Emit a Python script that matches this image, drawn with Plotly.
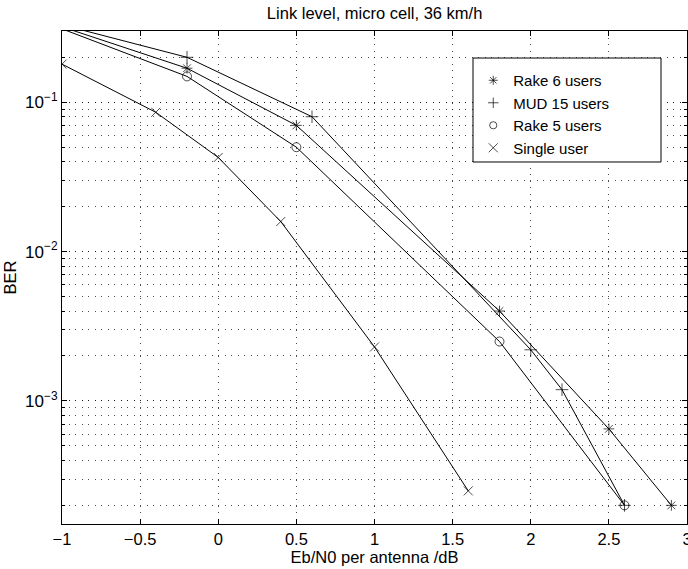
import plotly.graph_objects as go
import numpy as np

# Data
x_rake6 = [-1.0, -0.2, 0.5, 1.8, 2.5, 2.9]
y_rake6 = [0.32, 0.169, 0.070, 0.0040, 0.00065, 0.00020]

x_mud15 = [-1.0, -0.2, 0.6, 2.0, 2.2, 2.6]
y_mud15 = [0.33, 0.200, 0.080, 0.0022, 0.00119, 0.00020]

x_rake5 = [-1.0, -0.2, 0.5, 1.8, 2.6]
y_rake5 = [0.31, 0.149, 0.050, 0.0025, 0.00020]

x_single = [-1.0, -0.4, 0.0, 0.4, 1.0, 1.6]
y_single = [0.18, 0.0857, 0.0427, 0.0159, 0.0023, 0.00025]

series_names = ["Rake 6 users", "MUD 15 users", "Rake 5 users", "Single user"]
series_x = [x_rake6, x_mud15, x_rake5, x_single]
series_y = [y_rake6, y_mud15, y_rake5, y_single]
symbols = ["asterisk-open", "cross-thin-open", "circle-open", "x-thin-open"]

y_min, y_max = 1.5e-4, 0.3
x_min, x_max = -1, 3

ytick_vals = [1e-3, 1e-2, 1e-1]
ytick_text = ["10<sup>−3</sup>", "10<sup>−2</sup>", "10<sup>−1</sup>"]
xtick_vals = [-1, -0.5, 0, 0.5, 1, 1.5, 2, 2.5, 3]
xtick_text = ["−1", "−0.5", "0", "0.5", "1", "1.5", "2", "2.5", "3"]

font_family = "Liberation Sans, Arial, Helvetica, sans-serif"

fig = go.Figure()
for name, xs, ys, sym in zip(series_names, series_x, series_y, symbols):
    fig.add_trace(go.Scatter(x=xs, y=ys, mode="lines", showlegend=False,
                             line=dict(color="black", width=1), hoverinfo="skip"))
    # markers of points outside the axis limits are not drawn (MATLAB-like)
    sizes = [9 if (y_min <= v <= y_max) else 0 for v in ys]
    fig.add_trace(go.Scatter(x=xs, y=ys, mode="markers", name=name,
                             marker=dict(symbol=sym, size=sizes, color="black",
                                         line=dict(color="black", width=1))))

grid_col = "rgba(0,0,0,0.7)"
grid_dash = "1px,5.5px"
fs = 16.5
fig.update_layout(
    width=688, height=569,
    margin=dict(l=62, r=1, t=31, b=45, autoexpand=False),
    paper_bgcolor="white", plot_bgcolor="white",
    font=dict(family=font_family, size=fs, color="black"),
    title=dict(text="Link level, micro cell, 36 km/h", x=0.5445, xanchor="center",
               y=0.977, yanchor="middle", font=dict(size=16.5)),
    showlegend=True,
    legend=dict(x=0.658, y=0.933, xanchor="left", yanchor="top",
                borderwidth=0, bgcolor="rgba(0,0,0,0)",
                font=dict(size=15), itemwidth=30, tracegroupgap=0),
    shapes=[dict(type="rect", xref="paper", yref="paper",
                 x0=0.6576, x1=0.9584, y0=0.7343, y1=0.9452,
                 line=dict(color="black", width=1), fillcolor="white",
                 layer="above")],
    xaxis=dict(range=[x_min, x_max], tickvals=xtick_vals, ticktext=xtick_text,
               automargin=False, ticklabeloverflow="allow",
               showline=True, linecolor="black", linewidth=1, mirror="ticks",
               ticks="inside", ticklen=5, tickcolor="black",
               tickfont=dict(size=fs),
               showgrid=True, gridcolor=grid_col, griddash=grid_dash, gridwidth=1,
               zeroline=False,
               title=dict(text="Eb/N0 per antenna /dB", standoff=3, font=dict(size=fs))),
    yaxis=dict(type="log", range=[np.log10(y_min), np.log10(y_max)],
               tickvals=ytick_vals, ticktext=ytick_text,
               automargin=False,
               showline=True, linecolor="black", linewidth=1, mirror="ticks",
               ticks="inside", ticklen=5, tickcolor="black",
               tickfont=dict(size=17),
               showgrid=True, gridcolor=grid_col, griddash=grid_dash, gridwidth=1,
               zeroline=False,
               minor=dict(ticks="inside", ticklen=3, tickcolor="black",
                          showgrid=True, gridcolor=grid_col, griddash=grid_dash, gridwidth=1,
                          dtick="D1"),
               title=dict(text="BER", standoff=4, font=dict(size=fs))),
)

fig.write_html("out.html", config={"displayModeBar": False},
               post_script="document.body.style.margin='0px';")
